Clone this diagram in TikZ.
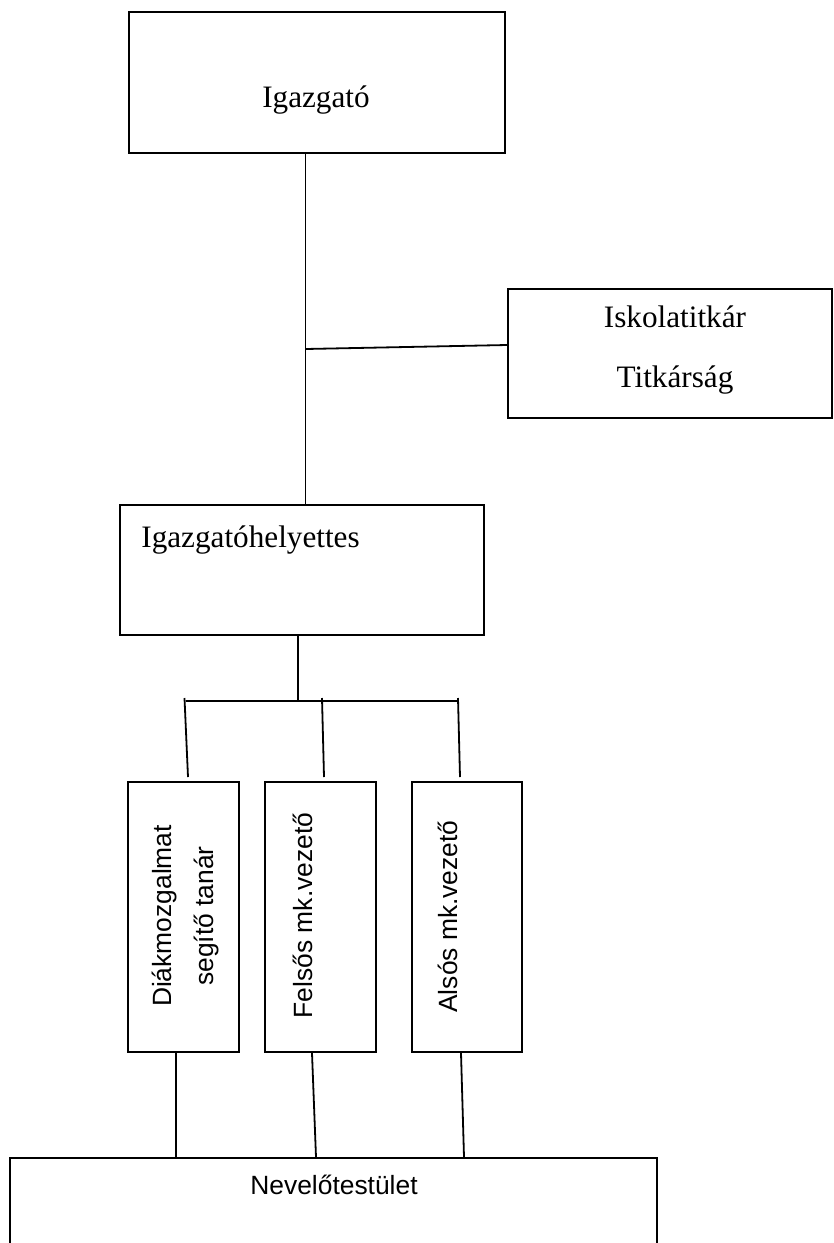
\documentclass[tikz,border=0pt]{standalone}
\usepackage{fontspec}
\setmainfont{Liberation Serif}
\setsansfont{Liberation Sans}
\usetikzlibrary{calc}

\begin{document}
\begin{tikzpicture}[x=0.5pt, y=-0.5pt,
            box/.style={draw, line width=1pt, inner sep=0pt},
            serif/.style={font=\fontsize{15.6}{18}\selectfont},
            sans/.style={font=\sffamily\fontsize{13.2}{21}\selectfont},
            conn/.style={line width=0.9pt}]
            \clip (0,0) rectangle (834,1243);
            \useasboundingbox (0,0) rectangle (834,1243);

            \node[box, minimum width=188pt, minimum height=70.5pt] (ig) at (317,82.5) {};
            \node[box, minimum width=162pt, minimum height=64.5pt] (tit) at (670,353.5) {};
            \node[box, minimum width=182pt, minimum height=65pt] (igh) at (302,570) {};

            \node[box, minimum width=55.5pt, minimum height=135pt] (dia) at (183.5,917) {};
            \node[box, minimum width=55.5pt, minimum height=135pt] (fel) at (320.5,917) {};
            \node[box, minimum width=55pt, minimum height=135pt] (als) at (467,917) {};

            \node[box, minimum width=323.5pt, minimum height=71pt] (nev) at (333.5,1229) {};

            \node[serif, anchor=base] (igt) at (316,107) {Igazgató};
            \node[serif, anchor=base] (tit1) at (675,327) {Iskolatitkár};
            \node[serif, anchor=base] (tit2) at (675,387) {Titkárság};
            \node[serif, anchor=base west, inner sep=0pt] (ight) at (141,547) {Igazgatóhelyettes};

            \node[sans, rotate=90, align=center] (diat) at (186,916) {Diákmozgalmat\\segítő tanár};
            \node[sans, rotate=90, anchor=base] (felt) at (312,915.5) {Felsős mk.vezető};
            \node[sans, rotate=90, anchor=base] (alst) at (457,916.5) {Alsós mk.vezető};

            \node[sans, anchor=base] (nevt) at (334,1194) {Nevelőtestület};

            \coordinate (j1) at (305.5,349);
            \coordinate (bm) at (298,701);
            \coordinate (bl) at (186,701);
            \coordinate (br) at (459,701);
            \coordinate (t1) at (184.5,698);
            \coordinate (t2) at (322,698);
            \coordinate (t3) at (458,698);

            \draw[conn] (ig.south -| j1) -- (igh.north -| j1);
            \draw[conn] (j1) -- ($(tit.west)+(0,-8.5)$);
            \draw[conn] (igh.south -| bm) -- (bm);
            \draw[conn] (bl) -- (br);

            \foreach \t/\nd/\dx in {t1/dia/4.5, t2/fel/3.5, t3/als/-7}
                \draw[conn] (\t) -- ($(\nd.north)+(\dx,-4)$);

            \draw[conn] ($(dia.south)+(-7.5,0)$) -- ($(nev.north)+(-157.5,0)$);
            \draw[conn] ($(fel.south)+(-8.5,0)$) -- ($(nev.north)+(-17.5,0)$);
            \draw[conn] ($(als.south)+(-6,0)$) -- ($(nev.north)+(130.5,0)$);
        \end{tikzpicture}
\end{document}
